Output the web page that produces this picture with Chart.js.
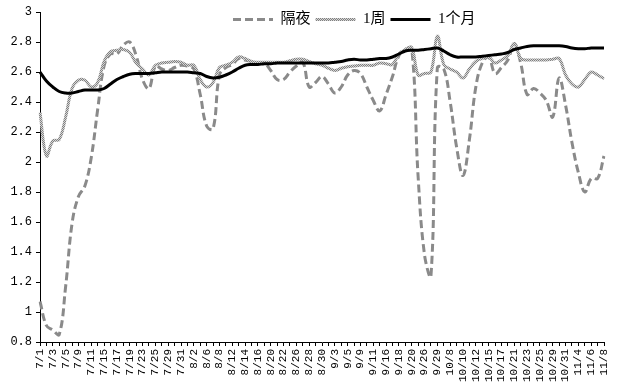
<!DOCTYPE html>
<html><head><meta charset="utf-8">
<script src="https://cdn.jsdelivr.net/npm/chart.js@4"></script>
<style>html,body{margin:0;padding:0;background:#fff}#wrap{width:625px;height:382px;position:relative}</style>
</head><body><div id="wrap"><canvas id="c"></canvas></div>
<script>
const dates = ['7/1','7/2','7/3','7/4','7/5','7/8','7/9','7/10','7/11','7/12','7/15','7/16','7/17','7/18','7/19','7/22','7/23','7/24','7/25','7/26','7/29','7/30','7/31',
'8/1','8/2','8/5','8/6','8/7','8/8','8/9','8/12','8/13','8/14','8/15','8/16','8/19','8/20','8/21','8/22','8/23','8/26','8/27','8/28','8/29','8/30',
'9/2','9/3','9/4','9/5','9/6','9/9','9/10','9/11','9/12','9/16','9/17','9/18','9/19','9/20','9/25','9/26','9/27','9/29','9/30',
'10/8','10/9','10/10','10/11','10/12','10/14','10/15','10/16','10/17','10/18','10/21','10/22','10/23','10/24','10/25','10/28','10/29','10/30','10/31',
'11/1','11/4','11/5','11/6','11/7','11/8'];

const overnight = [1.07,0.91,0.88,0.85,1.17,1.59,1.77,1.84,2.03,2.35,2.64,2.72,2.72,2.78,2.80,2.71,2.55,2.49,2.64,2.62,2.61,2.63,2.645,2.64,2.62,2.45,2.24,2.22,2.58,2.63,
2.65,2.69,2.68,2.67,2.66,2.66,2.61,2.55,2.55,2.60,2.64,2.665,2.50,2.53,2.57,2.52,2.46,2.50,2.58,2.61,2.59,2.50,2.41,2.34,2.45,2.57,2.71,2.75,2.76,1.90,
1.38,1.24,2.63,2.62,2.40,2.10,1.91,2.15,2.50,2.66,2.70,2.59,2.63,2.68,2.79,2.66,2.45,2.49,2.46,2.41,2.30,2.56,2.38,2.13,1.93,1.80,1.89,1.89,2.04];

const week1 = [2.33,2.04,2.14,2.15,2.30,2.49,2.545,2.545,2.50,2.53,2.67,2.735,2.745,2.75,2.73,2.66,2.62,2.58,2.645,2.66,2.665,2.67,2.665,2.645,2.645,2.55,2.50,2.53,2.63,2.645,
2.665,2.70,2.69,2.67,2.665,2.665,2.665,2.665,2.665,2.675,2.685,2.685,2.67,2.655,2.645,2.625,2.61,2.625,2.635,2.64,2.645,2.645,2.645,2.66,2.655,2.65,2.72,2.75,2.76,2.58,
2.59,2.60,2.84,2.65,2.62,2.60,2.56,2.62,2.67,2.69,2.70,2.66,2.68,2.71,2.79,2.69,2.68,2.68,2.68,2.68,2.685,2.69,2.58,2.52,2.50,2.55,2.60,2.58,2.555];

const month1 = [2.60,2.54,2.50,2.47,2.46,2.46,2.47,2.48,2.48,2.48,2.49,2.52,2.55,2.57,2.585,2.59,2.59,2.59,2.595,2.60,2.60,2.60,2.60,2.60,2.595,2.59,2.57,2.56,2.565,2.58,
2.60,2.625,2.645,2.65,2.65,2.655,2.655,2.66,2.66,2.66,2.66,2.66,2.66,2.66,2.66,2.66,2.665,2.67,2.68,2.685,2.68,2.68,2.685,2.69,2.69,2.70,2.72,2.74,2.745,2.745,
2.75,2.755,2.76,2.74,2.715,2.70,2.70,2.70,2.70,2.705,2.71,2.715,2.72,2.73,2.75,2.76,2.77,2.775,2.775,2.775,2.775,2.775,2.77,2.76,2.755,2.755,2.76,2.76,2.76];

const seriesNames = ['隔夜', '1周', '1个月'];
const yMin = 0.8, yMax = 3, yStep = 0.2;

// textured pattern for the 1周 line
const pc = document.createElement('canvas');
pc.width = 2; pc.height = 2;
const pctx = pc.getContext('2d');
pctx.fillStyle = '#d6d6d6'; pctx.fillRect(0,0,2,2);
pctx.fillStyle = '#808080'; pctx.fillRect(0,0,1,1); pctx.fillRect(1,1,1,1);
const weekPattern = pctx.createPattern(pc, 'repeat');

const tickFont = { family: '"Liberation Mono", monospace', size: 12 };
const xFont = { family: '"Liberation Mono", monospace', size: 11 };

const legendShift = {
  id: 'legendShift',
  beforeInit(chart) {
    const L = chart.legend;
    const fit = L.fit;
    L.fit = function() { fit.call(this); this.height = 0; };
  },
  afterLayout(chart) {
    const L = chart.legend;
    L.left = 228; L.right = 625; L.top = 7; L.bottom = 36;
  }
};

new Chart(document.getElementById('c'), {
  type: 'line',
  data: {
    labels: dates,
    datasets: [
      { label: seriesNames[0], data: overnight, borderColor: '#8a8a8a', borderWidth: 3, borderDash: [8,4], tension: 0.4, pointRadius: 0, order: 3, fill: false },
      { label: seriesNames[1], data: week1, borderColor: weekPattern, borderWidth: 3, tension: 0.4, pointRadius: 0, order: 2, fill: false },
      { label: seriesNames[2], data: month1, borderColor: '#000000', borderWidth: 3, tension: 0.4, pointRadius: 0, order: 1, fill: false }
    ]
  },
  options: {
    responsive: true, maintainAspectRatio: false, animation: false, devicePixelRatio: 1,
    layout: { padding: { left: 0, right: 21, top: 12, bottom: 0 } },
    plugins: {
      tooltip: { enabled: false },
      legend: {
        display: true, position: 'top', align: 'start',
        labels: {
          usePointStyle: true, pointStyleWidth: 40, padding: 5,
          font: { family: '"Liberation Serif", "Noto Sans CJK SC"', size: 15 },
          color: '#000',
          generateLabels(chart) {
            return chart.data.datasets.map((ds, i) => ({
              text: ds.label, fillStyle: 'rgba(0,0,0,0)', strokeStyle: ds.borderColor,
              lineWidth: ds.borderWidth, lineDash: ds.borderDash || [], lineCap: 'butt',
              pointStyle: 'line', hidden: false, datasetIndex: i, fontColor: '#000'
            }));
          }
        }
      }
    },
    scales: {
      x: {
        type: 'category', offset: false,
        grid: { display: true, drawOnChartArea: false, drawTicks: true, tickLength: 4, color: '#000', tickColor: '#000' },
        border: { display: true, color: '#000', width: 1 },
        ticks: { autoSkip: false, maxRotation: 90, minRotation: 90, padding: 3, color: '#000', font: xFont,
          callback: (v, i) => (i % 2 === 0 ? dates[i] : '') },
        afterFit: (s) => { s.height = 40; }
      },
      y: {
        min: yMin, max: yMax,
        grid: { display: true, drawOnChartArea: false, drawTicks: true, tickLength: 4, color: '#000', tickColor: '#000' },
        border: { display: true, color: '#000', width: 1 },
        ticks: { stepSize: yStep, padding: 4, color: '#000', font: tickFont,
          callback: (v) => String(Math.round(v * 10) / 10) },
        afterFit: (s) => { s.width = 40; }
      }
    }
  },
  plugins: [legendShift]
});
</script>
</body></html>
